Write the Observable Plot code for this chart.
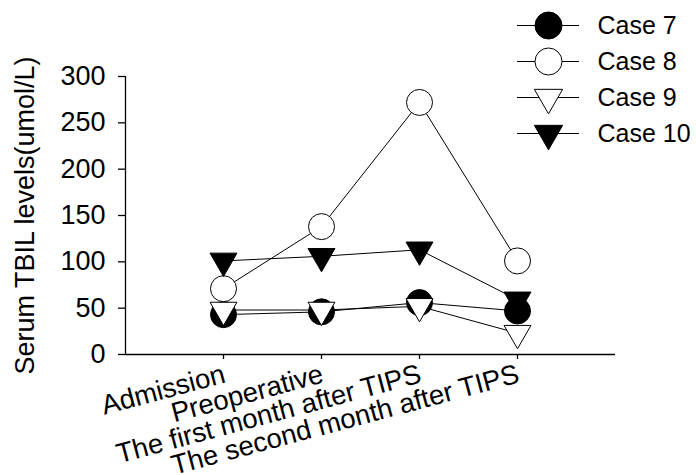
<!DOCTYPE html>
<html><head><meta charset="utf-8">
<script src="https://cdn.jsdelivr.net/npm/d3@7"></script>
<script src="https://cdn.jsdelivr.net/npm/@observablehq/plot@0.6"></script>
<style>
body{margin:0;background:#fff;}
#wrap{position:relative;width:696px;height:475px;}
#wrap svg{position:absolute;left:0;top:0;}
</style></head><body><div id="wrap"></div>
<script>
const timepoints = ["Admission", "Preoperative", "The first month after TIPS", "The second month after TIPS"];
const cases = ["Case 7", "Case 8", "Case 9", "Case 10"];
const case7 = [43, 46, 56, 47];
const case8 = [71, 138, 272, 101];
const case9 = [48, 48, 52, 23];
const case10 = [101, 106, 113, 59];
const yTicks = [0, 50, 100, 150, 200, 250, 300];
const yTitle = "Serum TBIL levels(umol/L)";

const series = [case7, case8, case9, case10];
const style = {
  "Case 7": {symbol: "circle", fill: "black", r: 13, rotate: 0},
  "Case 8": {symbol: "circle", fill: "white", r: 13, rotate: 0},
  "Case 9": {symbol: "triangle", fill: "white", r: 10, rotate: 180},
  "Case 10": {symbol: "triangle", fill: "black", r: 10, rotate: 180}
};
const rows = cases.flatMap((name, k) => series[k].map((v, i) => ({name, t: i + 1, v})));
const font = "'Liberation Sans', Arial, sans-serif";

const dotMarks = cases.map(name => Plot.dot(rows.filter(d => d.name === name), {
  x: "t", y: "v", symbol: style[name].symbol, r: style[name].r, fill: style[name].fill,
  stroke: "black", strokeWidth: 1, rotate: style[name].rotate
}));

const main = Plot.plot({
  width: 696, height: 475,
  marginLeft: 125, marginRight: 81, marginTop: 76, marginBottom: 121,
  style: {fontFamily: font, fontSize: "27px", background: "white", color: "black"},
  x: {domain: [0, 5]},
  y: {domain: [0, 300]},
  marks: [
    Plot.axisY({ticks: yTicks, tickSize: 7, tickPadding: 13, label: null, fontSize: 27, strokeWidth: 1.3}),
    Plot.axisX({ticks: [1, 2, 3, 4], tickSize: 5, tickFormat: () => "", label: null, strokeWidth: 1.3}),
    Plot.ruleX([0], {stroke: "black", strokeWidth: 1.3}),
    Plot.ruleY([0], {stroke: "black", strokeWidth: 1.3}),
    Plot.text(timepoints, {x: (d, i) => i + 1, y: 0, text: d => d, rotate: -15, textAnchor: "end",
      lineAnchor: "middle", dy: 19, dx: 1, fontSize: 27.5, fill: "black"}),
    Plot.text([yTitle], {frameAnchor: "left", text: d => d, rotate: -90, dx: -100, fontSize: 27,
      textAnchor: "middle", lineAnchor: "middle", fill: "black"}),
    Plot.line(rows, {x: "t", y: "v", z: "name", stroke: "black", strokeWidth: 1}),
    ...dotMarks
  ]
});

const legendDots = cases.map(name => Plot.dot([name], {
  x: 0.5, y: d => d, symbol: style[name].symbol, r: style[name].r + 0.5, fill: style[name].fill,
  stroke: "black", strokeWidth: 1, rotate: style[name].rotate
}));
const legend = Plot.plot({
  width: 196, height: 160,
  margin: 0,
  style: {fontFamily: font, fontSize: "25px", background: "transparent", color: "black"},
  x: {domain: [0, 1], range: [17, 79], axis: null},
  y: {type: "point", domain: cases, range: [24, 133], padding: 0, axis: null},
  marks: [
    Plot.ruleY(cases, {y: d => d, x1: 0, x2: 1, stroke: "black", strokeWidth: 1}),
    ...legendDots,
    Plot.text(cases, {x: 1, y: d => d, text: d => d, dx: 18, textAnchor: "start", fontSize: 25, fill: "black"})
  ]
});
legend.style.left = "500px";
legend.style.top = "0px";
legend.style.background = "transparent";

const wrap = document.getElementById("wrap");
wrap.appendChild(main);
wrap.appendChild(legend);
</script></body></html>
